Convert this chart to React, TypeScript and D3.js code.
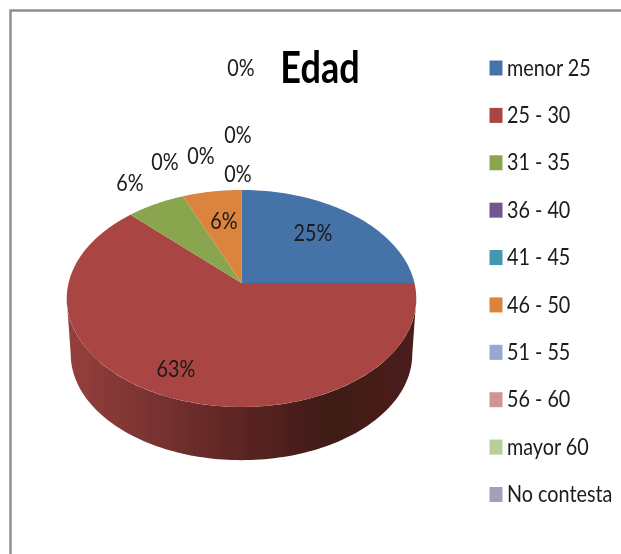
import React from "react";
import * as d3 from "d3";

const categories = ["menor 25", "25 - 30", "31 - 35", "36 - 40", "41 - 45", "46 - 50", "51 - 55", "56 - 60", "mayor 60", "No contesta"];
const counts = [4, 10, 1, 0, 0, 1, 0, 0, 0, 0];
const colors = ["#4573a7", "#a94543", "#89a54e", "#71588f", "#4298af", "#db843d", "#93a9cf", "#d19392", "#b9cd96", "#a99bbd"];
const labelAnchors: ([number, number] | null)[] = [
  [313, 232], [176, 368], [130, 182], [165, 161], [201, 155], [224, 220], [238, 173], [238, 134], [241, 67], null,
];

const W = 621, H = 554;
const cx = 241.5, cy = 283, a = 173, b = 106.3, k = 1 / 7;
const depthY = 56, depthScale = 0.977;
const FONT = "Lato, 'Open Sans', sans-serif";

// t = 0 is the back of the disc (up), t = PI the front (down); the front is nearer, so larger
const project = (t: number, scale = 1, dy = 0): [number, number] => {
  const w = 1 + k * Math.cos(t);
  return [cx + (scale * a * Math.sin(t)) / w, cy + dy - (scale * b * Math.cos(t)) / w];
};

const arcPath = (start: number, end: number) => {
  const ts = d3.range(0, 61).map((i) => start + ((end - start) * i) / 60);
  return d3.line()([[cx, cy], ...ts.map((t) => project(t))]) + "Z";
};

const wallPath = () => {
  // from one silhouette tangent of the disc to the other
  const t0 = Math.acos(-k);
  const t1 = 2 * Math.PI - t0;
  const ts = d3.range(0, 121).map((i) => t0 + ((t1 - t0) * i) / 120);
  const top = ts.map((t) => project(t));
  const bottom = ts.slice().reverse().map((t) => project(t, depthScale, depthY));
  return d3.line()([...top, ...bottom]) + "Z";
};

export default function App() {
  const slices = d3.pie<number>().sort(null).value((d) => d)(counts);
  const total = d3.sum(counts);
  const legendY = d3.scalePoint<string>().domain(categories).range([68, 494.5]);
  const wallX = d3.scaleLinear().domain([67, 416]).range([0, 100]);
  const wallStops: [number, string][] = [
    [67, "#973f3d"], [150, "#7a3331"], [241, "#5c2523"], [330, "#3f1a17"], [416, "#4d1e1b"],
  ];
  return (
    <svg width={W} height={H} style={{ position: "absolute", left: 0, top: 0, background: "#fff" }} fontFamily={FONT}>
      <defs>
        <linearGradient id="wall" x1="0" x2="1" y1="0" y2="0">
          {wallStops.map(([x, c]) => (
            <stop key={x} offset={`${wallX(x)}%`} stopColor={c} />
          ))}
        </linearGradient>
        <filter id="soft" x="-5%" y="-5%" width="110%" height="110%">
          <feGaussianBlur stdDeviation="0.45" />
        </filter>
      </defs>
      <g filter="url(#soft)">
        <path d="M10.5,554V10.5H621" fill="none" stroke="#8e8e8e" strokeWidth={2.5} />
        <path d={wallPath()} fill="url(#wall)" />
        {slices.map((s, i) =>
          s.endAngle > s.startAngle ? <path key={i} d={arcPath(s.startAngle, s.endAngle)} fill={colors[i]} /> : null
        )}
        {slices.map((s, i) => {
          const p = labelAnchors[i];
          if (!p) return null;
          return (
            <text key={i} transform={`translate(${p[0]},${p[1]}) scale(0.86,1)`} textAnchor="middle" dominantBaseline="central" fontSize={23} fill="#1a1a1a">
              {`${Math.round((s.data / total) * 100)}%`}
            </text>
          );
        })}
        <text transform="translate(320,66) scale(0.82,1)" textAnchor="middle" dominantBaseline="central" fontSize={44} fontWeight={700} fill="#000">
          Edad
        </text>
        {categories.map((c, i) => {
          const y = legendY(c)!;
          return (
            <g key={c}>
              <rect x={489.5} y={y - 7.5} width={13} height={15} fill={colors[i]} />
              <text transform={`translate(507,${y - 1}) scale(0.86,1)`} dominantBaseline="central" fontSize={23} fill="#1a1a1a">
                {c}
              </text>
            </g>
          );
        })}
      </g>
    </svg>
  );
}
